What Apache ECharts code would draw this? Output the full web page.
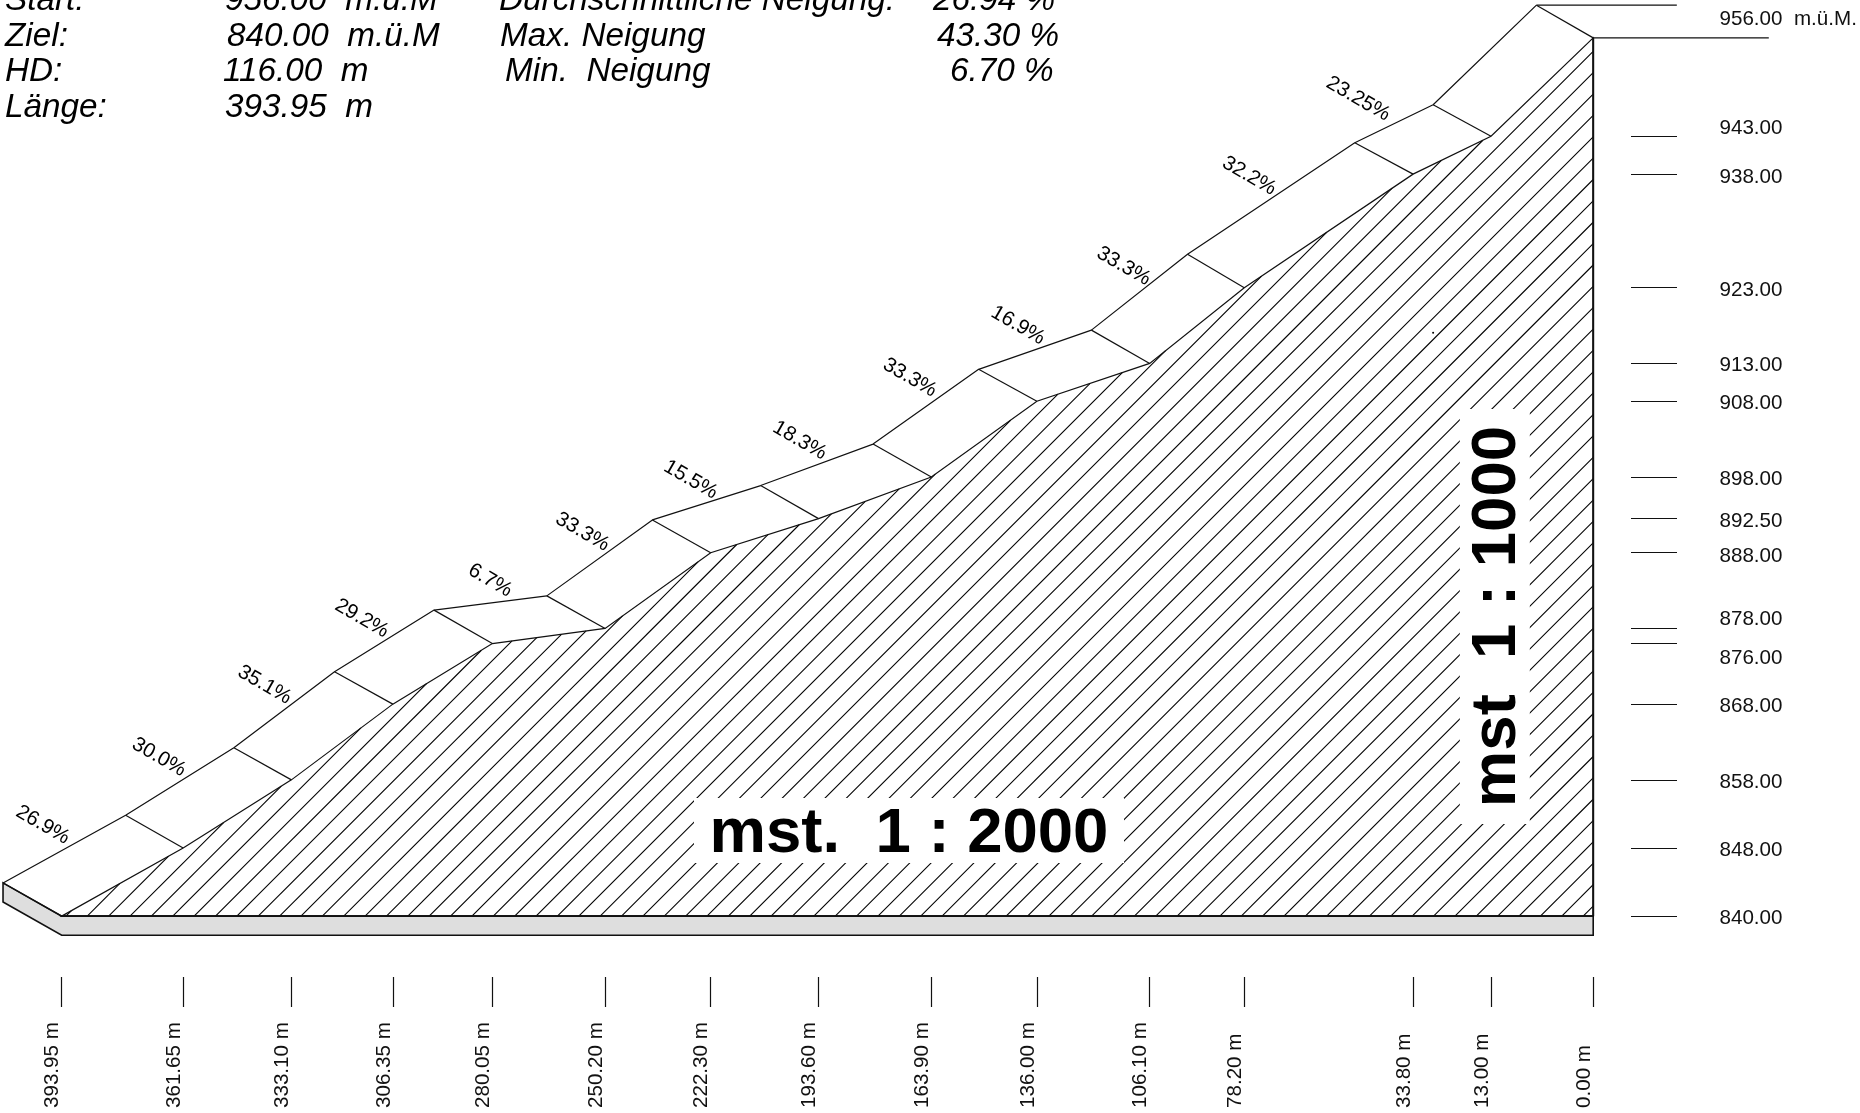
<!DOCTYPE html>
<html><head><meta charset="utf-8">
<style>html,body{margin:0;padding:0;background:#fff}#c{width:1860px;height:1113px}</style>
<script src="https://cdn.jsdelivr.net/npm/echarts@6/dist/echarts.min.js"></script>
</head><body><div id="c"></div>
<script>
// Stations along the profile, as drawn (metres on the drawing, measured from the right wall)
const stationLabels = ['393.95 m','361.65 m','333.10 m','306.35 m','280.05 m','250.20 m','222.30 m','193.60 m','163.90 m','136.00 m','106.10 m','78.20 m','33.80 m','13.00 m','0.00 m'];
const stationDrawn  = [404.7,372.6,344.0,317.2,290.9,261.1,233.2,204.7,174.9,147.0,117.2,92.2,47.6,27.0,0];
const groundElev    = [840,849,858,868,876,878,888,892.5,898,908,913,923,938,943,956];
// Top (offset) edge of the embankment
const topDrawn = [420.2,387.8,359.2,332.6,306.3,276.5,248.6,220.0,190.3,162.4,132.6,107.2,63.0,42.3,15.0];
const topElev  = [844.39,853.32,862.25,872.27,880.42,882.30,892.33,896.87,902.35,912.22,917.40,927.42,942.15,947.16,960.32];
// Grey base slab
const slabDrawn = [420.2,404.7,0,0,404.7,420.2];
const slabElev  = [844.39,840,840,837.48,837.48,841.87];
// Slope labels
const slopeLabels = ['26.9%','30.0%','35.1%','29.2%','6.7%','33.3%','15.5%','18.3%','33.3%','16.9%','33.3%','32.2%','23.25%'];
const slopeDrawn  = [409.7,379.0,351.1,325.4,291.5,267.1,238.5,209.7,180.6,152.0,124.1,90.9,62.1];
const slopeElev   = [852.06,860.99,870.55,879.32,884.34,890.76,897.65,902.83,911.13,918.02,925.85,937.76,947.94];
// Elevation ticks and labels
const elevTicks  = [840,849,858,868,876,878,888,892.5,898,908,913,923,938,943];
const elevLabels = ['840.00','848.00','858.00','868.00','876.00','878.00','888.00','892.50','898.00','908.00','913.00','923.00','938.00','943.00','956.00  m.ü.M.'];
const elevLabelAt= [839.7,848.7,857.7,867.7,874.0,879.2,887.5,892.1,897.7,907.7,912.7,922.7,937.6,944.05,958.5];
// Header block
const headerNames  = ['Start:','Ziel:','HD:','Länge:'];
const headerValues = ['956.00  m.ü.M','840.00  m.ü.M','116.00  m','393.95  m'];
const headerStats  = ['Durchschnittliche Neigung:','Max. Neigung','Min.  Neigung'];
const headerPct    = ['26.94 %','43.30 %','6.70 %'];

const INK = '#111';
const FONT = '"Liberation Sans", Arial, sans-serif';

const headerText = [];
const rowY = [3, 39, 74.5, 110.5];
const valX = [225, 227, 223, 225];
const statX = [499, 500, 505];
const pctX = [933, 937, 950];
function hdr(text, x, y) {
  headerText.push({type:'text', left:x, top:y-19, silent:true, z:50,
    style:{text:text, fill:'#000', font:'italic 33.3px ' + FONT}});
}
headerNames.forEach((t,i)=>hdr(t, 5, rowY[i]));
headerValues.forEach((t,i)=>hdr(t, valX[i], rowY[i]));
headerStats.forEach((t,i)=>hdr(t, statX[i], rowY[i]));
headerPct.forEach((t,i)=>hdr(t, pctX[i], rowY[i]));

function polySeries(xs, ys, fill, lw, z){
  return {type:'custom', coordinateSystem:'cartesian2d', silent:true, z:z, clip:false,
    data:[[0,0]], encode:{x:0,y:1},
    renderItem:(p,api)=>({type:'polygon',
      shape:{points:xs.map((x,i)=>api.coord([x,ys[i]]))},
      style:{fill:fill, stroke:INK, lineWidth:lw, lineJoin:'miter'}})};
}
function lineSeries(xs, ys, lw){
  return {type:'line', silent:true, z:5, showSymbol:false, symbol:'none', animation:false,
    data:xs.map((x,i)=>[x,ys[i]]), lineStyle:{color:INK,width:lw}};
}
// hatch: 45-degree lines rising from the base line, stopping at the ground profile
const hatchSeries = {type:'custom', coordinateSystem:'cartesian2d', silent:true, z:2, clip:false,
  data:[[0,0]], encode:{x:0,y:1},
  renderItem:(p,api)=>{
    const pts = stationDrawn.map((d,i)=>api.coord([d,groundElev[i]]));
    const baseY = pts[0][1], wallX = pts[pts.length-1][0];
    const children = [];
    for (let x0 = pts[0][0]+4.2; x0 < wallX; x0 += 21.37) {
      let end = null;
      for (let i=0;i<pts.length-1 && !end;i++){
        const [ax,ay]=pts[i],[bx,by]=pts[i+1];
        const dx=bx-ax, dy=by-ay;
        const t = (baseY+x0-ax-ay)/(dy+dx);
        if (t>=0 && t<=1) end=[ax+t*dx, ay+t*dy];
      }
      if(!end) end=[wallX, baseY-(wallX-x0)];
      children.push({type:'line', shape:{x1:x0,y1:baseY,x2:end[0],y2:end[1]},
        style:{stroke:'#000',lineWidth:1.1}});
    }
    return {type:'group', children};
  }};
const connectorSeries = {type:'custom', coordinateSystem:'cartesian2d', silent:true, z:5, clip:false,
  data:stationDrawn.map((d,i)=>[d,groundElev[i],topDrawn[i],topElev[i]]),
  encode:{x:0,y:1},
  renderItem:(p,api)=>{
    const a=api.coord([api.value(0),api.value(1)]), b=api.coord([api.value(2),api.value(3)]);
    return {type:'line',shape:{x1:a[0],y1:a[1],x2:b[0],y2:b[1]},style:{stroke:INK,lineWidth:1.2}};
  }};
function whiteBox(d,e,w,h){
  return {type:'scatter', silent:true, z:9, symbolSize:0, animation:false, itemStyle:{opacity:1},
    data:[[d,e]],
    label:{show:true, position:'inside', formatter:'\u00a0', opacity:1, backgroundColor:'#fff',
      width:w, height:h, lineHeight:h, align:'center', verticalAlign:'middle', fontSize:10}};
}
function bigText(text,d,e,rot){
  return {type:'scatter', silent:true, z:10, symbolSize:0, animation:false, itemStyle:{opacity:1},
    data:[[d,e]],
    label:{show:true, position:'inside', formatter:text, rotate:rot, color:'#000', opacity:1,
      fontFamily:FONT, fontWeight:'bold', fontSize:63.5}};
}

const option = {
  animation:false, backgroundColor:'#fff',
  grid:{left:0,top:0,width:1860,height:1113,containLabel:false},
  xAxis:{type:'value', inverse:true, min:-70.5, max:421, splitLine:{show:false},
    position:'bottom', offset:-136,
    axisLine:{show:false,onZero:false},
    axisTick:{show:true, customValues:stationDrawn, length:30, lineStyle:{color:INK,width:1.2}},
    axisLabel:{show:true, customValues:stationDrawn, rotate:90, margin:131, align:'left', verticalAlign:'bottom',
      lineHeight:18, color:'#111', fontFamily:FONT, fontSize:20.6, hideOverlap:false,
      formatter:v=>stationLabels[stationDrawn.indexOf(v)]}},
  yAxis:{type:'value', min:814, max:961, position:'right', offset:-183, splitLine:{show:false},
    axisLine:{show:false,onZero:false},
    axisTick:{show:true, inside:true, customValues:elevTicks, length:46, lineStyle:{color:INK,width:1.2}},
    axisLabel:{show:true, customValues:elevLabelAt, margin:42.5, align:'left', color:'#111', fontFamily:FONT, fontSize:20.6,
      hideOverlap:false, showMinLabel:true, showMaxLabel:true,
      formatter:v=>elevLabels[elevLabelAt.indexOf(v)]}},
  graphic:headerText,
  series:[
    polySeries(slabDrawn, slabElev, '#dedede', 1.6, 1),
    hatchSeries,
    polySeries(stationDrawn.concat([0]), groundElev.concat([840]), 'none', 1.2, 4),
    lineSeries([0,0],[840,956],2),
    lineSeries([0,404.7],[840,840],1.6),
    lineSeries(topDrawn, topElev, 1.2),
    connectorSeries,
    lineSeries([15.0,-22.1],[960.32,960.32],1.2),
    lineSeries([0,-46.4],[956,956],1.4),
    {type:'scatter', silent:true, z:6, symbolSize:0, animation:false, itemStyle:{opacity:1},
      data:slopeDrawn.map((d,i)=>[d,slopeElev[i]]),
      label:{show:true, position:'inside', rotate:-30, color:'#000', opacity:1, fontFamily:FONT, fontSize:20.6,
        formatter:p=>slopeLabels[p.dataIndex]}},
    {type:'scatter', silent:true, z:6, symbolSize:2, animation:false, itemStyle:{color:'#000',opacity:1}, data:[[42.3,917.04]]},
    whiteBox(180.8,851.3,430,65),
    whiteBox(26.0,879.57,70,415),
    bigText('mst.  1 : 2000',180.8,850.74,0),
    bigText('mst  1 : 1000',25.2,879.57,90)
  ]
};
const chart = echarts.init(document.getElementById('c'), null, {renderer:'canvas'});
chart.setOption(option);
</script></body></html>
